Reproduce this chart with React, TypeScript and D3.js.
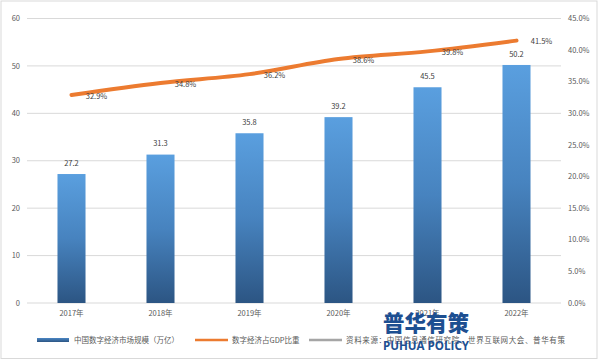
import React from "react";
import * as d3 from "d3";

const years = ["2017年", "2018年", "2019年", "2020年", "2021年", "2022年"];
const marketSize = [27.2, 31.3, 35.8, 39.2, 45.5, 50.2];
const gdpShare = [32.9, 34.8, 36.2, 38.6, 39.8, 41.5];
const leftTicks = [0, 10, 20, 30, 40, 50, 60];
const rightTicks = [0, 5, 10, 15, 20, 25, 30, 35, 40, 45];
const legendLabels = ["中国数字经济市场规模（万亿）", "数字经济占GDP比重", "资料来源：中国信息通信研究院、世界互联网大会、普华有策"];

const W = 601, H = 361;
const left = 27, right = 561, top = 18.5, bottom = 303;
const FONT = "'Noto Sans CJK SC', 'Noto Sans', sans-serif";

export default function App() {
  const x = d3.scaleBand<string>().domain(years).range([left, right]).paddingInner(0.685).paddingOuter(0.3425);
  const yL = d3.scaleLinear().domain([0, 60]).range([bottom, top]);
  const yR = d3.scaleLinear().domain([0, 45]).range([bottom, top]);
  const cx = (d: string) => (x(d) as number) + x.bandwidth() / 2;
  const line = d3.line<number>().x((_, i) => cx(years[i])).y(d => yR(d)).curve(d3.curveMonotoneX);

  return (
    <svg width={W} height={H} style={{ position: "absolute", left: 0, top: 0 }} fontFamily={FONT}>
      <defs>
        <linearGradient id="barg" x1="0" y1="0" x2="0" y2="1">
          <stop offset="0" stopColor="#5a9fdf" />
          <stop offset="0.5" stopColor="#4783bf" />
          <stop offset="1" stopColor="#2c5583" />
        </linearGradient>
        <linearGradient id="legg" x1="0" y1="0" x2="0" y2="1">
          <stop offset="0" stopColor="#4a86c4" />
          <stop offset="1" stopColor="#2c5583" />
        </linearGradient>
      </defs>
      <rect x={0} y={0} width={W} height={H} fill="#fff" />
      <rect x={1} y={1} width={596} height={357.5} fill="none" stroke="#d9d9d9" strokeWidth={1} />
      {leftTicks.map(t => (
        <g key={"l" + t}>
          <line x1={left} x2={right} y1={yL(t)} y2={yL(t)} stroke="#d9d9d9" strokeWidth={1} />
          <text x={20} y={yL(t)} dy="0.35em" textAnchor="end" fontSize={7.5} fill="#595959">{t}</text>
        </g>
      ))}
      {rightTicks.map(t => (
        <text key={"r" + t} x={568} y={yR(t)} dy="0.35em" textAnchor="start" fontSize={7.5} fill="#595959">{t.toFixed(1)}%</text>
      ))}
      {years.map((yv, i) => (
        <g key={yv}>
          <rect x={x(yv)} y={yL(marketSize[i])} width={x.bandwidth()} height={bottom - yL(marketSize[i])} fill="url(#barg)" />
          <text x={cx(yv)} y={yL(marketSize[i]) - 11} dy="0.35em" textAnchor="middle" fontSize={7.5} fill="#404040">{marketSize[i]}</text>
          <text x={cx(yv)} y={313} dy="0.35em" textAnchor="middle" fontSize={7.5} fill="#595959">{yv}</text>
        </g>
      ))}
      <path d={line(gdpShare) || ""} fill="none" stroke="#ec7b30" strokeWidth={4} strokeLinecap="round" strokeLinejoin="round" />
      {gdpShare.map((v, i) => (
        <text key={"g" + i} x={cx(years[i]) + 25} y={yR(v) + 1} dy="0.35em" textAnchor="middle" fontSize={7.5} fill="#404040">{v.toFixed(1)}%</text>
      ))}
      {/* legend */}
      <rect x={37} y={338} width={32} height={4} fill="url(#legg)" />
      <text x={74} y={340} dy="0.35em" fontSize={7.5} fill="#595959">{legendLabels[0]}</text>
      <line x1={195} x2={228} y1={340} y2={340} stroke="#ec7b30" strokeWidth={2.5} />
      <text x={232} y={340} dy="0.35em" fontSize={7.5} fill="#595959">{legendLabels[1]}</text>
      <line x1={309} x2={342} y1={340} y2={340} stroke="#a5a5a5" strokeWidth={2.5} />
      <text x={346} y={340} dy="0.35em" fontSize={7.5} fill="#595959" textLength={219} lengthAdjust="spacing">{legendLabels[2]}</text>
      {/* watermark */}
      <text x={426} y={331} textAnchor="middle" fontSize={22} fontWeight={900} fill="#1d4f91" textLength={86} lengthAdjust="spacingAndGlyphs">普华有策</text>
      <text x={426} y={350} textAnchor="middle" fontSize={13} fontWeight={700} fill="#1d4f91" fontFamily="'Open Sans', sans-serif" textLength={86} lengthAdjust="spacingAndGlyphs">PUHUA POLICY</text>
    </svg>
  );
}
